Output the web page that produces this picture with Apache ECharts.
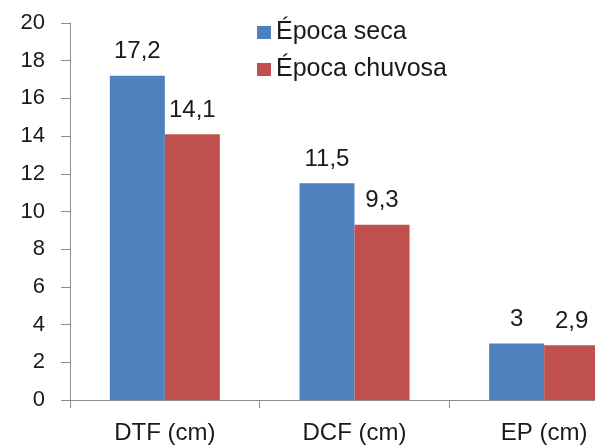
<!DOCTYPE html>
<html>
<head>
<meta charset="utf-8">
<script src="https://cdn.jsdelivr.net/npm/echarts@6/dist/echarts.min.js"></script>
<style>
  html, body { margin: 0; padding: 0; background: #fff; }
  #chart { width: 595px; height: 448px; }
</style>
</head>
<body>
<div id="chart"></div>
<script>
// Categories and values per season
const categories = ['DTF (cm)', 'DCF (cm)', 'EP (cm)'];
const epocaSeca = [17.2, 11.5, 3];
const epocaChuvosa = [14.1, 9.3, 2.9];
const seriesNames = ['Época seca', 'Época chuvosa'];
const yTicks = { min: 0, max: 20, interval: 2 };

const font = 'Liberation Sans, Arial, sans-serif';
const textColor = '#1a1a1a';
const axisColor = '#8c8c8c';

const fmt = p => String(p.value).replace('.', ',');

const chart = echarts.init(document.getElementById('chart'), null, { renderer: 'canvas' });
chart.setOption({
  animation: false,
  backgroundColor: '#fff',
  // the plot runs past the right edge of the canvas, so the last bar is cut
  grid: { left: 70, top: 23, bottom: 48, right: -44, outerBoundsMode: 'none', containLabel: false },
  legend: {
    orient: 'vertical',
    left: 257,
    top: 20,
    padding: 0,
    itemWidth: 14,
    itemHeight: 13,
    itemGap: 12,
    icon: 'rect',
    textStyle: { fontFamily: font, fontSize: 25, color: textColor },
    data: seriesNames
  },
  xAxis: {
    type: 'category',
    data: categories,
    axisLine: { lineStyle: { color: axisColor, width: 1 } },
    axisTick: { show: true, length: 8, lineStyle: { color: axisColor } },
    axisLabel: { fontFamily: font, fontSize: 24, color: textColor, margin: 21 }
  },
  yAxis: {
    type: 'value',
    min: yTicks.min,
    max: yTicks.max,
    interval: yTicks.interval,
    splitLine: { show: false },
    axisLine: { show: true, lineStyle: { color: axisColor, width: 1 } },
    axisTick: { show: true, length: 9, lineStyle: { color: axisColor } },
    axisLabel: { fontFamily: font, fontSize: 22, color: textColor, margin: 25 }
  },
  series: [
    {
      name: seriesNames[0],
      type: 'bar',
      data: epocaSeca,
      barWidth: 55,
      barGap: '0%',
      itemStyle: { color: '#4F81BD' },
      label: { show: true, position: 'top', distance: 12, formatter: fmt,
               fontFamily: font, fontSize: 24, color: textColor }
    },
    {
      name: seriesNames[1],
      type: 'bar',
      data: epocaChuvosa,
      barWidth: 55,
      barGap: '0%',
      itemStyle: { color: '#C0504D' },
      label: { show: true, position: 'top', distance: 12, formatter: fmt,
               fontFamily: font, fontSize: 24, color: textColor }
    }
  ]
});
</script>
</body>
</html>
